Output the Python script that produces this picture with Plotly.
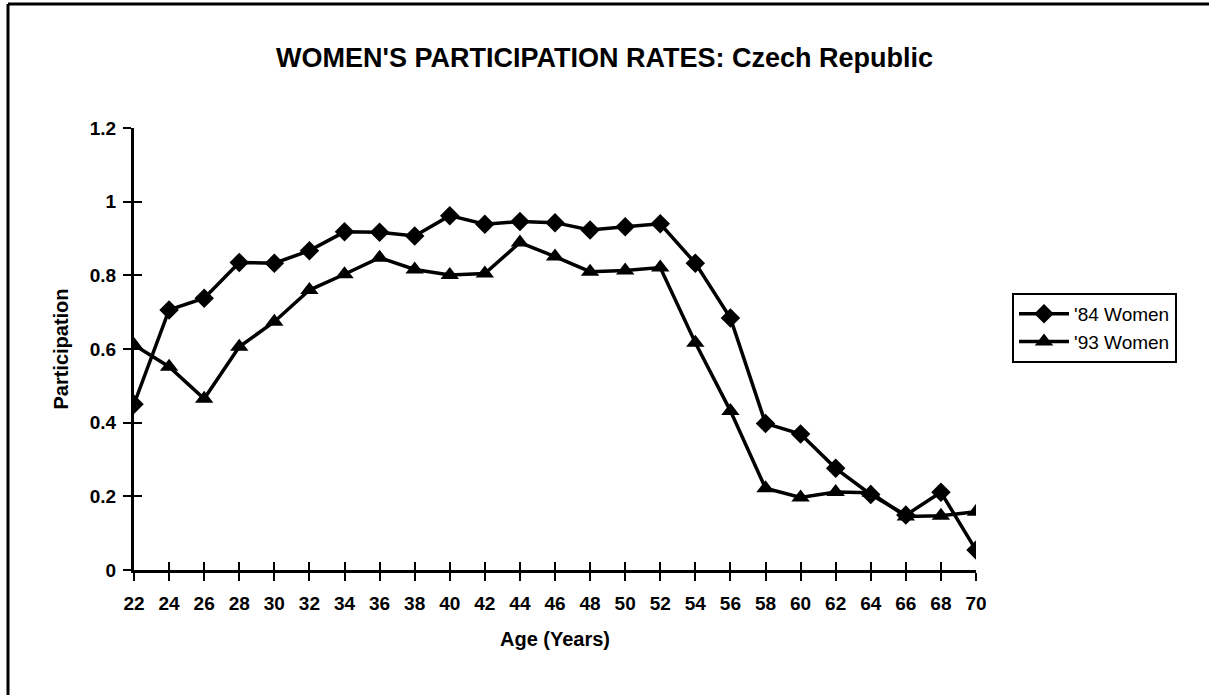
import plotly.graph_objects as go

ages = [22, 24, 26, 28, 30, 32, 34, 36, 38, 40, 42, 44, 46, 48, 50, 52, 54, 56, 58, 60, 62, 64, 66, 68, 70]
women_84 = [0.45, 0.706, 0.738, 0.835, 0.833, 0.867, 0.918, 0.917, 0.907, 0.962, 0.939, 0.946, 0.943,
            0.923, 0.932, 0.940, 0.833, 0.684, 0.398, 0.369, 0.276, 0.205, 0.149, 0.211, 0.054]
women_93 = [0.611, 0.552, 0.465, 0.606, 0.674, 0.760, 0.803, 0.848, 0.816, 0.801, 0.805, 0.889, 0.851,
            0.810, 0.813, 0.821, 0.617, 0.432, 0.222, 0.197, 0.212, 0.210, 0.145, 0.147, 0.158]
x_ticks = ages
y_ticks = [0, 0.2, 0.4, 0.6, 0.8, 1.0, 1.2]
y_tick_labels = ["0", "0.2", "0.4", "0.6", "0.8", "1", "1.2"]
series_names = ["'84 Women", "'93 Women"]

FONT = "Liberation Sans, Arial, sans-serif"

fig = go.Figure()
fig.add_trace(go.Scatter(x=ages, y=women_84, name=series_names[0], mode="lines+markers",
                         line=dict(color="black", width=3.5),
                         marker=dict(symbol="diamond", size=15, color="black")))
fig.add_trace(go.Scatter(x=ages, y=women_93, name=series_names[1], mode="lines+markers",
                         line=dict(color="black", width=3.5),
                         marker=dict(symbol="triangle-up", size=16, color="black")))

axis_common = dict(showgrid=False, zeroline=False)
fig.update_layout(
    width=1209, height=695,
    paper_bgcolor="white", plot_bgcolor="white",
    margin=dict(l=134, r=233, t=128, b=125),
    font=dict(family=FONT, color="black", size=18),
    title=dict(text="<b>WOMEN'S PARTICIPATION RATES: Czech Republic</b>",
               x=0.5, xref="container", xanchor="center",
               y=1 - 58 / 695, yref="container", yanchor="middle",
               font=dict(size=27, family=FONT, color="black")),
    xaxis=dict(range=[22, 70], tickvals=x_ticks, ticktext=["<b>%d</b>" % a for a in x_ticks],
               ticks="outside", ticklen=8, tickwidth=2, tickcolor="black",
               showline=True, linecolor="black", linewidth=3,
               ticklabelstandoff=6,
               tickfont=dict(size=19, family=FONT),
               title=dict(text="<b>Age (Years)</b>", font=dict(size=20, family=FONT), standoff=20),
               **axis_common),
    yaxis=dict(range=[0, 1.2], tickvals=y_ticks, ticktext=["<b>%s</b>" % t for t in y_tick_labels],
               ticks="outside", ticklen=8, tickwidth=2, tickcolor="black",
               showline=True, linecolor="black", linewidth=3,
               ticklabelstandoff=3,
               tickfont=dict(size=19, family=FONT),
               title=dict(text="<b>Participation</b>", font=dict(size=20, family=FONT), standoff=16),
               **axis_common),
    xaxis2=dict(range=[22, 70], tickvals=x_ticks, overlaying="x", anchor="y",
                ticks="inside", ticklen=8, tickwidth=2, tickcolor="black",
                showticklabels=False, showline=False, side="bottom", **axis_common),
    yaxis2=dict(range=[0, 1.2], tickvals=y_ticks, overlaying="y", anchor="x",
                ticks="inside", ticklen=8, tickwidth=2, tickcolor="black",
                showticklabels=False, showline=False, side="left", **axis_common),
    showlegend=True,
    legend=dict(x=(1012 - 134) / 842, y=(570 - 293) / 442, xanchor="left", yanchor="top",
                bordercolor="black", borderwidth=2, bgcolor="white",
                font=dict(size=19, family=FONT), tracegroupgap=0, itemwidth=50),
)

# invisible helper trace so the overlay axes render
fig.add_trace(go.Scatter(x=[22], y=[0], xaxis="x2", yaxis="y2", mode="markers",
                         marker=dict(opacity=0), showlegend=False, hoverinfo="skip"))

# outer frame lines of the original page (top and left)
fig.add_shape(type="line", xref="paper", yref="paper",
              x0=(8 - 134) / 842, x1=(1209 - 134) / 842,
              y0=(570 - 4) / 442, y1=(570 - 4) / 442, line=dict(color="black", width=3))
fig.add_shape(type="line", xref="paper", yref="paper",
              x0=(8 - 134) / 842, x1=(8 - 134) / 842,
              y0=(570 - 4) / 442, y1=(570 - 700) / 442, line=dict(color="black", width=3))

fig.write_html("out.html", config={"displayModeBar": False},
               post_script="document.body.style.margin='0px';")
